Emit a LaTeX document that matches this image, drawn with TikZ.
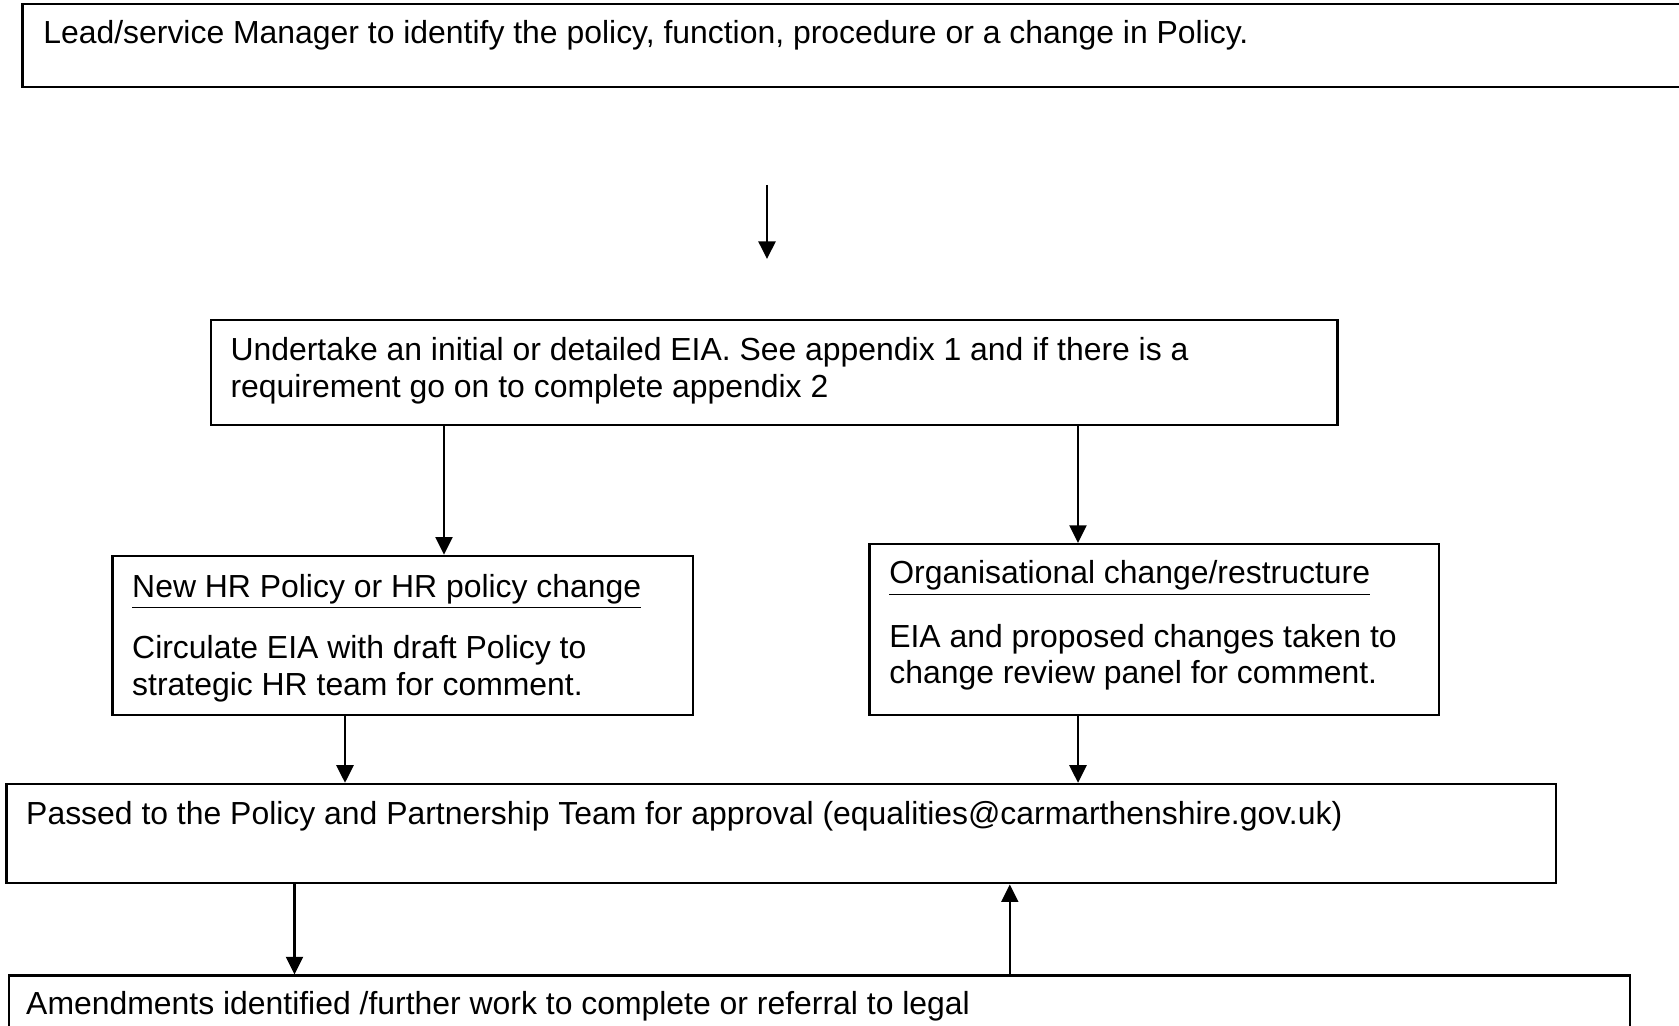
\documentclass[tikz,border=0pt]{standalone}
\usepackage{fontspec}
\setmainfont{Liberation Sans}
\usetikzlibrary{arrows.meta}

\newcommand\pxu{0.376pt}
\tikzset{
  box/.style 2 args={draw, line width=0.8pt, inner sep=0pt, anchor=north west,
    minimum width=#1*\pxu, minimum height=#2*\pxu},
  txt/.style={anchor=base west, inner sep=0pt, align=left,
    font=\fontsize{12}{13.8}\selectfont},
  arr/.style={line width=0.8pt, -{Triangle[length=6.6pt,width=6.4pt]}}
}

\begin{document}
\begin{tikzpicture}[x=\pxu, y=-\pxu]
  \useasboundingbox (0,0) rectangle (1679,1026);
  \clip (0,0) rectangle (1679,1026);
  % boxes
  \node[box={1700}{82.5}] (lead) at (21.4,3.2) {};
  \node[box={1126.4}{105}] (eia) at (210,319) {};
  \node[box={580.3}{159.5}] (hrpol) at (111.4,554.7) {};
  \node[box={569.7}{171.3}] (orgchg) at (868.4,542.9) {};
  \node[box={1549.4}{99.5}] (ppt) at (5.4,782.8) {};
  \node[box={1621.3}{100}] (amend) at (7.5,974.4) {};
  % texts (base = last line)
  \node[txt] (leadtxt) at (42.8,43.3) {Lead/service Manager to identify the policy, function, procedure or a change in Policy.};
  \node[txt] (eiatxt) at (230,397.4) {Undertake an initial or detailed EIA. See appendix 1 and if there is a\\requirement go on to complete appendix 2};
  \node[txt] (hrtxt) at (131.7,695.4) {\underline{New HR Policy or HR policy change}\\[9.3pt]Circulate EIA with draft Policy to\\strategic HR team for comment.};
  \node[txt] (orgtxt) at (888.8,683.7) {\underline{Organisational change/restructure}\\[10pt]EIA and proposed changes taken to\\change review panel for comment.};
  \node[txt] (ppttxt) at (25.7,824) {Passed to the Policy and Partnership Team for approval (equalities@carmarthenshire.gov.uk)};
  \node[txt] (amendtxt) at (25.7,1014) {Amendments identified /further work to complete or referral to legal};
  % arrows
  \coordinate (leadout) at (767,185);
  \coordinate (eiain) at (767,259);
  \draw[arr] (leadout) -- (eiain);
  \draw[arr] (444,0 |- eia.south) -- (444,0 |- hrpol.north);
  \draw[arr] (1078,0 |- eia.south) -- (1078,0 |- orgchg.north);
  \draw[arr] (345,0 |- hrpol.south) -- (345,0 |- ppt.north);
  \draw[arr] (1078,0 |- orgchg.south) -- (1078,0 |- ppt.north);
  \draw[arr] (294.5,0 |- ppt.south) -- (294.5,0 |- amend.north);
  \draw[arr] (1009.8,0 |- amend.north) -- (1009.8,0 |- ppt.south);
\end{tikzpicture}
\end{document}
